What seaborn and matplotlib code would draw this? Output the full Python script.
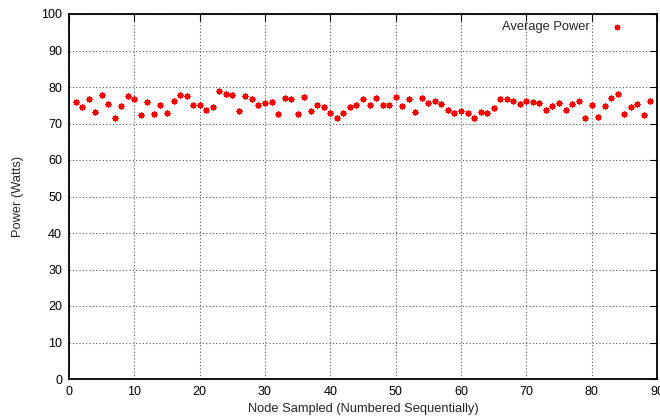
import matplotlib
matplotlib.use("Agg")
import matplotlib.pyplot as plt
import seaborn as sns
import pandas as pd

nodes = list(range(1, 90))
power = [
    76.0, 74.5, 76.7, 73.1, 77.9, 75.3, 71.6, 74.7, 77.5, 76.6,
    72.2, 76.0, 72.5, 75.2, 72.8, 76.3, 77.7, 77.5, 75.2, 75.0,
    73.8, 74.5, 78.8, 78.2, 77.9, 73.4, 77.5, 76.8, 75.1, 75.6,
    75.9, 72.7, 77.1, 76.6, 72.7, 77.2, 73.3, 75.0, 74.5, 72.9,
    71.4, 73.0, 74.5, 75.0, 76.8, 75.1, 77.1, 75.1, 75.1, 77.3,
    74.8, 76.7, 73.1, 76.9, 75.6, 76.3, 75.3, 73.6, 72.8, 73.5,
    72.9, 71.5, 73.1, 72.9, 74.2, 76.7, 76.8, 76.2, 75.4, 76.2,
    76.0, 75.5, 73.6, 74.7, 75.7, 73.8, 75.4, 76.1, 71.6, 75.1,
    71.8, 74.7, 77.1, 78.1, 72.7, 74.5, 75.3, 72.3, 76.1,
]
x_ticks = list(range(0, 91, 10))
y_ticks = list(range(0, 101, 10))

df = pd.DataFrame({"node": nodes, "power": power})

sns.set_style("white")
plt.rcParams["font.family"] = ["Liberation Sans", "DejaVu Sans"]

fig = plt.figure(figsize=(6.6, 4.16), dpi=100)
ax = fig.add_axes([69 / 660, 1 - 379 / 416, (657 - 69) / 660, (379 - 14) / 416])

sns.scatterplot(data=df, x="node", y="power", ax=ax, marker=(8, 2, 0),
                color="red", s=16, linewidth=1.0, label="Average Power", zorder=3)

ax.set_xlim(0, 90)
ax.set_ylim(0, 100)
ax.set_xticks(x_ticks)
ax.set_yticks(y_ticks)
ax.grid(True, linestyle=(0, (1, 2)), color="#555555", linewidth=0.8)
ax.set_axisbelow(True)
for s in ax.spines.values():
    s.set_color("black")
    s.set_linewidth(1.3)
ax.tick_params(direction="in", top=True, right=True, length=5, width=0.8,
               labelsize=9, colors="black", pad=5)
ax.set_xlabel("Node Sampled (Numbered Sequentially)", fontsize=9.3, labelpad=3.5)
ax.set_ylabel("Power (Watts)", fontsize=9.3, labelpad=12)

leg = ax.legend(loc="upper right", frameon=False, markerfirst=False, fontsize=9.3,
                handletextpad=1.1, borderaxespad=0.0, bbox_to_anchor=(0.963, 0.995),
                markerscale=0.8)

fig.savefig("out.png", dpi=100)
